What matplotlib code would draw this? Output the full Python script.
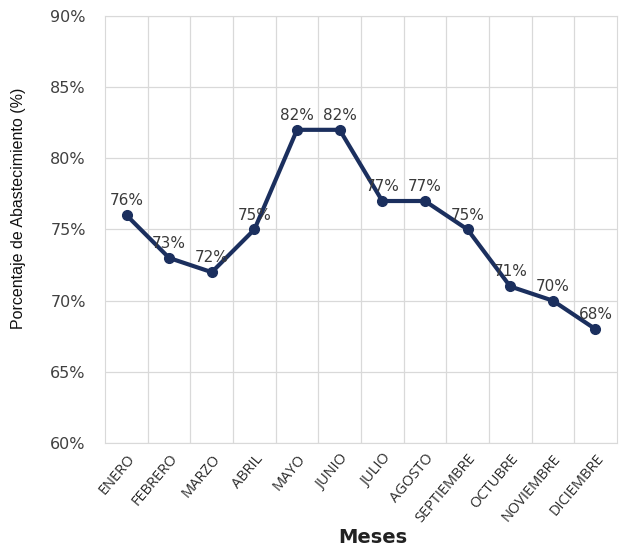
import matplotlib
matplotlib.use("Agg")
import matplotlib.pyplot as plt
from matplotlib.ticker import FuncFormatter, MultipleLocator

meses = ["ENERO", "FEBRERO", "MARZO", "ABRIL", "MAYO", "JUNIO", "JULIO",
         "AGOSTO", "SEPTIEMBRE", "OCTUBRE", "NOVIEMBRE", "DICIEMBRE"]
abastecimiento = [76, 73, 72, 75, 82, 82, 77, 77, 75, 71, 70, 68]

color_linea = "#1b2f5e"
gris = "#d9d9d9"

plt.rcParams['font.family'] = ['DejaVu Sans']

fig = plt.figure(figsize=(6.3, 5.49), dpi=100)
ax = fig.add_axes([0.167, 0.193, 0.812, 0.778])

x = list(range(len(meses)))
ax.plot(x, abastecimiento, color=color_linea, linewidth=3, marker="o",
        markersize=7, zorder=3)

for xi, v in zip(x, abastecimiento):
    ax.annotate("%d%%" % v, (xi, v), xytext=(0, 5), textcoords="offset points",
                ha="center", va="bottom", fontsize=11, color="#3a3a3a", zorder=4)

ax.set_xlim(-0.5, len(meses) - 0.5)
ax.set_ylim(60, 90)
ax.yaxis.set_major_locator(MultipleLocator(5))
ax.yaxis.set_major_formatter(FuncFormatter(lambda v, p: "%d%%" % v))

ax.set_xticks(x)
ax.set_xticklabels(meses, rotation=50, ha="right", rotation_mode="anchor",
                   fontsize=10.5, color="#2a2a2a", family=['Open Sans', 'DejaVu Sans'])
ax.set_xticks([i + 0.5 for i in x[:-1]], minor=True)
ax.tick_params(axis="y", labelsize=11.5, colors="#404040", length=0, pad=14)
ax.tick_params(axis="x", which="both", length=0, pad=6)

ax.grid(True, axis="y", color=gris, linewidth=0.9)
ax.grid(True, axis="x", which="minor", color=gris, linewidth=0.9)
ax.set_axisbelow(True)
for s in ax.spines.values():
    s.set_color(gris)

ax.set_ylabel("Porcentaje de Abastecimiento (%)",
              family=['Liberation Sans', 'DejaVu Sans'],
              fontsize=11.5, color="#111111")
ax.yaxis.set_label_coords(-0.155, 0.55)
ax.set_xlabel("Meses", fontsize=14, fontweight="bold", color="#222222")
ax.xaxis.set_label_coords(0.523, -0.2)

fig.savefig("out.png", dpi=100)
